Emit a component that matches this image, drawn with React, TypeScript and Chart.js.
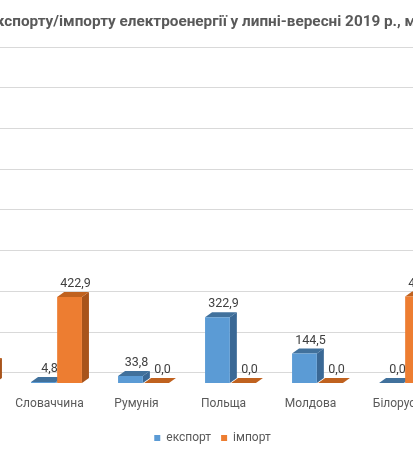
import React, { useEffect, useRef } from "react";
import { Chart, registerables } from "chart.js";

Chart.register(...registerables);

// ---- data ----
const categories = ["Угорщина", "Словаччина", "Румунія", "Польща", "Молдова", "Білорусь", "Росія"];
const exportValues = [1436.5, 4.8, 33.8, 322.9, 144.5, 0.0, 0.0];
const importValues = [98.6, 422.9, 0.0, 0.0, 0.0, 424.6, 180.2];
const seriesNames = ["експорт", "імпорт"];
const yMin = 0;
const yMax = 1600;
const yStep = 200;
const titleText = "Обсяги експорту/імпорту електроенергії у липні-вересні 2019 р., млн кВт·год";

// ---- styles ----
const FRONT = ["#5B9BD5", "#ED7D31"];
const TOP = ["#41719C", "#C0621F"];
const SIDE = ["#3A6895", "#A8541B"];
const DX = 7;
const DY = 5;
const BACK_OFFSET = 10.7;
const FONT = "Roboto, 'Noto Sans', sans-serif";

const CANVAS_W = 675;
const CANVAS_H = 455;
const SHIFT_X = 130;

const depthPlugin = {
  id: "depth3d",
  beforeDatasetsDraw(chart: any) {
    const ctx = chart.ctx as CanvasRenderingContext2D;
    const ys = chart.scales.y;
    const area = chart.chartArea;
    ctx.save();
    // back-wall gridlines
    ctx.strokeStyle = "#D9D9D9";
    ctx.lineWidth = 1;
    ys.ticks.forEach((t: any) => {
      const py = Math.round(ys.getPixelForValue(t.value) - BACK_OFFSET) + 0.5;
      ctx.beginPath();
      ctx.moveTo(area.left, py);
      ctx.lineTo(area.right + DX, py);
      ctx.stroke();
    });
    // depth faces
    const n = chart.data.labels.length;
    for (let i = 0; i < n; i++) {
      for (let d = 0; d < chart.data.datasets.length; d++) {
        const bar = chart.getDatasetMeta(d).data[i];
        if (!bar) continue;
        const p = bar.getProps(["x", "y", "base", "width"], true);
        const l = p.x - p.width / 2;
        const r = p.x + p.width / 2;
        const top = p.y;
        const base = p.base;
        ctx.fillStyle = SIDE[d];
        ctx.beginPath();
        ctx.moveTo(r, top);
        ctx.lineTo(r + DX, top - DY);
        ctx.lineTo(r + DX, base - DY);
        ctx.lineTo(r, base);
        ctx.closePath();
        ctx.fill();
        ctx.fillStyle = TOP[d];
        ctx.beginPath();
        ctx.moveTo(l, top);
        ctx.lineTo(l + DX, top - DY);
        ctx.lineTo(r + DX, top - DY);
        ctx.lineTo(r, top);
        ctx.closePath();
        ctx.fill();
      }
    }
    ctx.restore();
  },
  afterDatasetsDraw(chart: any) {
    const ctx = chart.ctx as CanvasRenderingContext2D;
    ctx.save();
    ctx.fillStyle = "#404040";
    ctx.font = `12.5px ${FONT}`;
    ctx.textAlign = "center";
    ctx.textBaseline = "middle";
    chart.data.datasets.forEach((ds: any, d: number) => {
      chart.getDatasetMeta(d).data.forEach((bar: any, i: number) => {
        const p = bar.getProps(["x", "y"], true);
        const v = ds.data[i] as number;
        ctx.fillText(v.toFixed(1).replace(".", ","), p.x + 6, p.y - 13);
      });
    });
    ctx.restore();
  },
};

export default function App() {
  const ref = useRef<HTMLCanvasElement | null>(null);

  useEffect(() => {
    if (!ref.current) return;
    const chart = new Chart(ref.current, {
      type: "bar",
      data: {
        labels: categories,
        datasets: [
          { label: seriesNames[0], data: exportValues, backgroundColor: FRONT[0], borderWidth: 0 },
          { label: seriesNames[1], data: importValues, backgroundColor: FRONT[1], borderWidth: 0 },
        ],
      },
      options: {
        responsive: false,
        animation: false,
        categoryPercentage: 0.6,
        barPercentage: 0.95,
        layout: { padding: { left: 20, right: 10, top: 5, bottom: 1 } },
        scales: {
          x: {
            grid: { display: false, drawTicks: false },
            border: { display: false },
            ticks: {
              color: "#595959",
              font: { family: FONT, size: 12 },
              padding: 14,
              labelOffset: -7,
            },
            afterFit: (s: any) => {
              s.height = 39;
            },
          },
          y: {
            min: yMin,
            max: yMax,
            grid: { display: false, drawTicks: false },
            border: { display: false },
            ticks: { stepSize: yStep, color: "#595959", font: { family: FONT, size: 12 } },
            afterFit: (s: any) => {
              s.width = 36;
            },
          },
        },
        plugins: {
          title: {
            display: true,
            text: titleText,
            color: "#595959",
            font: { family: FONT, size: 15.3, weight: "bold" },
            padding: { top: 8, bottom: 26 },
          },
          legend: {
            position: "bottom",
            labels: {
              color: "#595959",
              font: { family: FONT, size: 12 },
              boxWidth: 6,
              boxHeight: 6,
              padding: 10,
            },
          },
          tooltip: { enabled: false },
        },
      },
      plugins: [depthPlugin],
    });
    return () => chart.destroy();
  }, []);

  return (
    <div
      style={{
        position: "fixed",
        left: 0,
        top: 0,
        width: 413,
        height: 455,
        overflow: "hidden",
        background: "#fff",
      }}
    >
      <canvas
        ref={ref}
        width={CANVAS_W}
        height={CANVAS_H}
        style={{ position: "absolute", left: -SHIFT_X, top: 0, width: CANVAS_W, height: CANVAS_H }}
      />
    </div>
  );
}
